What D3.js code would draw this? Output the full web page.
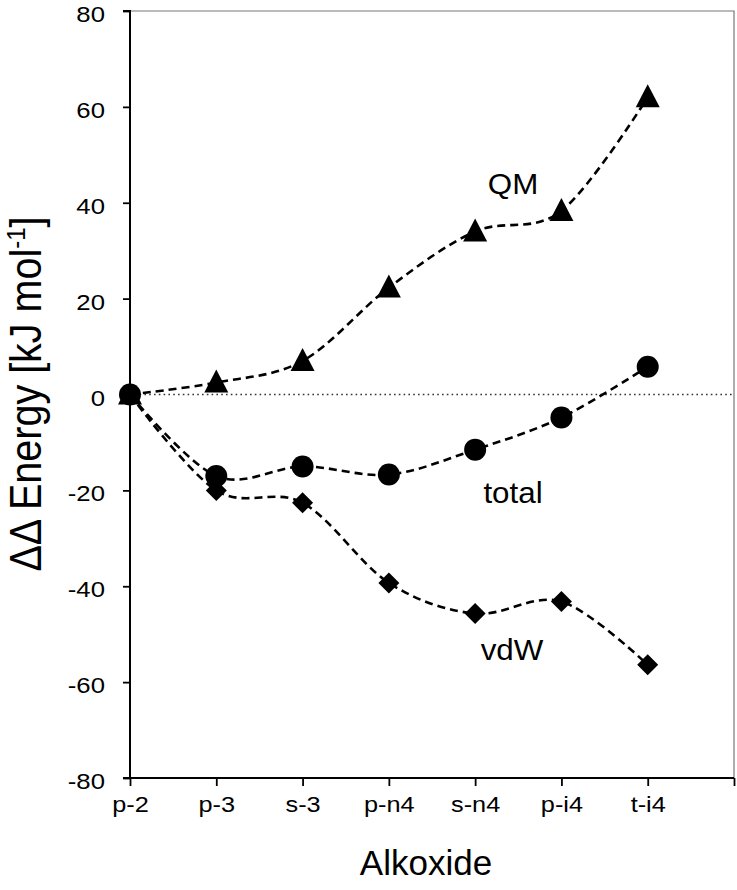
<!DOCTYPE html>
<html><head><meta charset="utf-8">
<script src="https://cdn.jsdelivr.net/npm/d3@7/dist/d3.min.js"></script>
<style>body{margin:0;background:#fff;} svg{display:block;font-family:Arial,"Liberation Sans",sans-serif;}</style>
</head><body><svg id="c" width="737" height="890"></svg>
<script>
const categories = ["p-2","p-3","s-3","p-n4","s-n4","p-i4","t-i4"];
const qm    = [0, 2.5, 7, 22.3, 34, 38.3, 62];
const total = [0, -17, -15, -16.7, -11.5, -4.8, 5.8];
const vdw   = [0, -20, -22.6, -39.3, -45.7, -43.2, -56.4];
const yTicks = [-80,-60,-40,-20,0,20,40,60,80];

const FONT = "Arial, 'Liberation Sans', sans-serif";
const svg = d3.select("#c");
const L = 130, R = 734, T = 11, B = 778;
const x = d3.scaleLinear().domain([0, 7]).range([L, R]);
const y = d3.scaleLinear().domain([-80, 80]).range([B, T]);

// frame (top/right)
svg.append("path").attr("d", `M${L},${T}H${R}V${B}`).attr("fill","none").attr("stroke","#777").attr("stroke-width",1.2);

// zero dotted line
svg.append("line").attr("x1", L).attr("x2", R).attr("y1", y(0)).attr("y2", y(0))
  .attr("stroke","#333").attr("stroke-width",1.6).attr("stroke-dasharray","1.6,3.2");

// y axis
const ya = svg.append("g").attr("transform",`translate(${L},0)`)
  .call(d3.axisLeft(y).tickValues(yTicks).tickSize(7).tickPadding(6).tickFormat(d => String(d)));
ya.select(".domain").attr("stroke","#000").attr("stroke-width",2).attr("d",`M-7,${T}H0V${B}`);
ya.selectAll(".tick line").attr("stroke","#000").attr("stroke-width",1.8);
ya.selectAll(".tick text").attr("x",null).attr("dy",null).attr("dominant-baseline","central")
  .attr("transform","translate(-25,2.5) scale(1.12,1)")
  .attr("font-size",23).attr("fill","#000").attr("font-family",FONT);

// x axis
const xa = svg.append("g").attr("transform",`translate(0,${B})`)
  .call(d3.axisBottom(x).tickValues(d3.range(0,8)).tickSize(8).tickPadding(6)
    .tickFormat(i => categories[i] || ""));
xa.select(".domain").attr("stroke","#000").attr("stroke-width",2).attr("d",`M${L-7},0H${R}`);
xa.selectAll(".tick line").attr("stroke","#000").attr("stroke-width",1.8);
xa.selectAll(".tick text").attr("y",null).attr("dy",null)
  .attr("transform","translate(0,34) scale(1.15,1)")
  .attr("font-size",22).attr("fill","#000").attr("font-family",FONT);

// lines
const line = d3.line().x((d,i)=>x(i)).y(d=>y(d)).curve(d3.curveCatmullRom.alpha(0));
[qm,total,vdw].forEach(s=>{
  svg.append("path").datum(s).attr("d",line).attr("fill","none").attr("stroke","#000")
    .attr("stroke-width",2.6).attr("stroke-dasharray","8,5");
});

// markers
svg.append("g").selectAll("path").data(vdw).join("path")
  .attr("transform",(d,i)=>`translate(${x(i)},${y(d)})`)
  .attr("d","M0,-10.5L10.5,0L0,10.5L-10.5,0Z").attr("fill","#000");
svg.append("g").selectAll("circle").data(total).join("circle")
  .attr("cx",(d,i)=>x(i)).attr("cy",d=>y(d)).attr("r",11).attr("fill","#000");
svg.append("g").selectAll("path").data(qm).join("path")
  .attr("transform",(d,i)=>`translate(${x(i)},${y(d)})`)
  .attr("d","M0,-13L12,10L-12,10Z").attr("fill","#000");

// series labels
const lab = [["QM",513,194],["total",513,503],["vdW",512,660]];
svg.append("g").selectAll("text").data(lab).join("text")
  .attr("transform",d=>`translate(${d[1]},${d[2]}) scale(1.08,1)`)
  .attr("text-anchor","middle")
  .attr("font-size",29).attr("font-family",FONT).attr("fill","#000").text(d=>d[0]);

// axis titles
svg.append("text").attr("x",426).attr("y",875).attr("text-anchor","middle")
  .attr("font-size",35).attr("font-family",FONT).attr("fill","#000").text("Alkoxide");
const yt = svg.append("text").attr("transform","translate(41,394) scale(1.1,1) rotate(-90)")
  .attr("text-anchor","middle").attr("font-size",39.5).attr("font-family",FONT).attr("fill","#000");
yt.append("tspan").text("ΔΔ  Energy [kJ mol");
yt.append("tspan").attr("font-size",24).attr("dy",-15).text("-1");
yt.append("tspan").attr("dy",15).text("]");
</script></body></html>
